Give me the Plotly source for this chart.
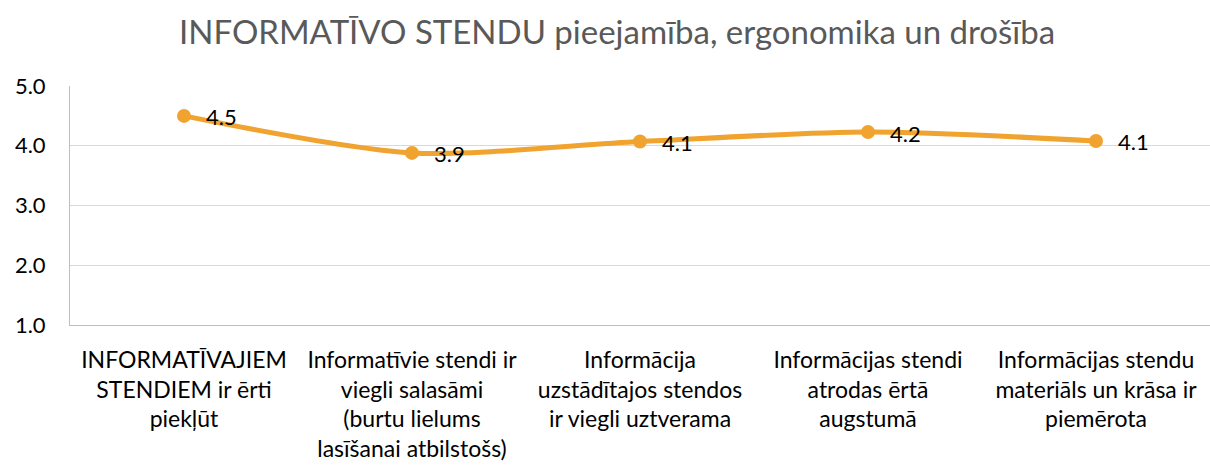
import plotly.graph_objects as go

categories = [
    "INFORMATĪVAJIEM<br>STENDIEM ir ērti<br>piekļūt",
    "Informatīvie stendi ir<br>viegli salasāmi<br>(burtu lielums<br>lasīšanai atbilstošs)",
    "Informācija<br>uzstādītajos stendos<br>ir viegli uztverama",
    "Informācijas stendi<br>atrodas ērtā<br>augstumā",
    "Informācijas stendu<br>materiāls un krāsa ir<br>piemērota",
]
scores = [4.5, 3.88, 4.07, 4.23, 4.08]
y_ticks = [1.0, 2.0, 3.0, 4.0, 5.0]

title_text = "INFORMATĪVO STENDU pieejamība, ergonomika un drošība"
line_color = "#F0A32F"
font_family = "Lato, Carlito, 'Open Sans', sans-serif"

fig = go.Figure(
    go.Scatter(
        x=categories,
        y=scores,
        mode="lines+markers",
        line=dict(color=line_color, width=5, shape="spline", smoothing=0.8),
        marker=dict(color=line_color, size=14),
        cliponaxis=False,
        hoverinfo="skip",
    )
)

# value labels to the right of each point
for cat, v in zip(categories, scores):
    fig.add_annotation(
        x=cat,
        y=v,
        text=f"{v:.1f}",
        showarrow=False,
        xanchor="left",
        yanchor="middle",
        xshift=20,
        yshift=-1,
        font=dict(family=font_family, size=22, color="#000000"),
    )

fig.update_layout(
    width=1210,
    height=467,
    margin=dict(l=70, r=0, t=86, b=142, autoexpand=False),
    paper_bgcolor="white",
    plot_bgcolor="white",
    showlegend=False,
    title=dict(
        text=title_text,
        x=0.51,
        xanchor="center",
        y=0.93,
        yanchor="middle",
        font=dict(family=font_family, size=33, color="#595959"),
    ),
    font=dict(family=font_family, color="#000000"),
)

fig.update_xaxes(
    type="category",
    range=[-0.5, 4.5],
    showline=True,
    linecolor="#bfbfbf",
    linewidth=1,
    showgrid=False,
    ticks="",
    ticklabelstandoff=14,
    automargin=False,
    tickfont=dict(family=font_family, size=23, color="#000000"),
)

fig.update_yaxes(
    range=[1, 5],
    tickvals=y_ticks,
    ticktext=[f"{v:.1f}" for v in y_ticks],
    showline=True,
    linecolor="#bfbfbf",
    linewidth=1,
    showgrid=True,
    gridcolor="#d9d9d9",
    gridwidth=1,
    zeroline=False,
    ticks="",
    ticklabelstandoff=19,
    automargin=False,
    tickfont=dict(family=font_family, size=22, color="#000000"),
)

fig.write_html("out.html")
